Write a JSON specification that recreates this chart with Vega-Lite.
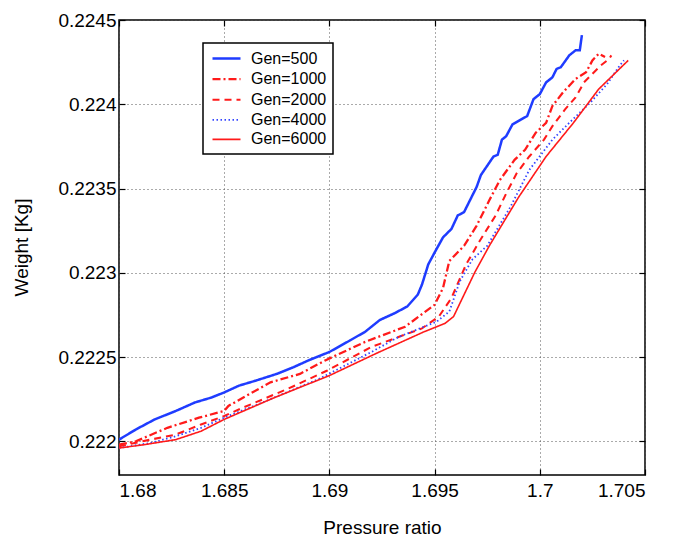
{
  "$schema": "https://vega.github.io/schema/vega-lite/v6.json",
  "width": 526,
  "height": 455,
  "autosize": {"type": "none"},
  "padding": {"left": 119, "top": 20, "right": 29, "bottom": 63},
  "background": "white",
  "config": {
    "font": "Liberation Sans",
    "view": {"stroke": "black", "strokeWidth": 1.5},
    "axis": {
      "labelFont": "Liberation Sans",
      "titleFont": "Liberation Sans",
      "labelFontSize": 19,
      "titleFontSize": 19,
      "titleFontWeight": "normal",
      "labelColor": "black",
      "titleColor": "black",
      "domain": false,
      "tickColor": "black",
      "tickSize": -6,
      "tickWidth": 1.2,
      "grid": true,
      "gridColor": "#555555",
      "gridDash": [1, 3],
      "gridWidth": 1
    }
  },
  "data": {
    "values": [
      {"series": "Gen=500", "pr": 1.6800, "w": 0.22201},
      {"series": "Gen=500", "pr": 1.6808, "w": 0.22207},
      {"series": "Gen=500", "pr": 1.6817, "w": 0.22213},
      {"series": "Gen=500", "pr": 1.6827, "w": 0.22218},
      {"series": "Gen=500", "pr": 1.6836, "w": 0.22223},
      {"series": "Gen=500", "pr": 1.6844, "w": 0.22226},
      {"series": "Gen=500", "pr": 1.6850, "w": 0.22229},
      {"series": "Gen=500", "pr": 1.6857, "w": 0.22233},
      {"series": "Gen=500", "pr": 1.6865, "w": 0.22236},
      {"series": "Gen=500", "pr": 1.6875, "w": 0.22240},
      {"series": "Gen=500", "pr": 1.6883, "w": 0.22244},
      {"series": "Gen=500", "pr": 1.6890, "w": 0.22248},
      {"series": "Gen=500", "pr": 1.6900, "w": 0.22253},
      {"series": "Gen=500", "pr": 1.6910, "w": 0.22260},
      {"series": "Gen=500", "pr": 1.6917, "w": 0.22265},
      {"series": "Gen=500", "pr": 1.6924, "w": 0.22272},
      {"series": "Gen=500", "pr": 1.6931, "w": 0.22276},
      {"series": "Gen=500", "pr": 1.6937, "w": 0.22280},
      {"series": "Gen=500", "pr": 1.6942, "w": 0.22287},
      {"series": "Gen=500", "pr": 1.6944, "w": 0.22293},
      {"series": "Gen=500", "pr": 1.6947, "w": 0.22305},
      {"series": "Gen=500", "pr": 1.6950, "w": 0.22312},
      {"series": "Gen=500", "pr": 1.6954, "w": 0.22321},
      {"series": "Gen=500", "pr": 1.6958, "w": 0.22326},
      {"series": "Gen=500", "pr": 1.6961, "w": 0.22334},
      {"series": "Gen=500", "pr": 1.6964, "w": 0.22336},
      {"series": "Gen=500", "pr": 1.6970, "w": 0.22351},
      {"series": "Gen=500", "pr": 1.6972, "w": 0.22358},
      {"series": "Gen=500", "pr": 1.6978, "w": 0.22369},
      {"series": "Gen=500", "pr": 1.6980, "w": 0.22370},
      {"series": "Gen=500", "pr": 1.6982, "w": 0.22379},
      {"series": "Gen=500", "pr": 1.6984, "w": 0.22381},
      {"series": "Gen=500", "pr": 1.6987, "w": 0.22388},
      {"series": "Gen=500", "pr": 1.6994, "w": 0.22393},
      {"series": "Gen=500", "pr": 1.6997, "w": 0.22403},
      {"series": "Gen=500", "pr": 1.7000, "w": 0.22406},
      {"series": "Gen=500", "pr": 1.7003, "w": 0.22413},
      {"series": "Gen=500", "pr": 1.7006, "w": 0.22416},
      {"series": "Gen=500", "pr": 1.7008, "w": 0.22421},
      {"series": "Gen=500", "pr": 1.7010, "w": 0.22422},
      {"series": "Gen=500", "pr": 1.7014, "w": 0.22429},
      {"series": "Gen=500", "pr": 1.7017, "w": 0.22432},
      {"series": "Gen=500", "pr": 1.7019, "w": 0.22432},
      {"series": "Gen=500", "pr": 1.7020, "w": 0.22441},

      {"series": "Gen=1000", "pr": 1.6800, "w": 0.22198},
      {"series": "Gen=1000", "pr": 1.6808, "w": 0.22200},
      {"series": "Gen=1000", "pr": 1.6823, "w": 0.22208},
      {"series": "Gen=1000", "pr": 1.6838, "w": 0.22214},
      {"series": "Gen=1000", "pr": 1.6850, "w": 0.22218},
      {"series": "Gen=1000", "pr": 1.6852, "w": 0.22221},
      {"series": "Gen=1000", "pr": 1.6872, "w": 0.22235},
      {"series": "Gen=1000", "pr": 1.6886, "w": 0.22240},
      {"series": "Gen=1000", "pr": 1.6898, "w": 0.22248},
      {"series": "Gen=1000", "pr": 1.6917, "w": 0.22259},
      {"series": "Gen=1000", "pr": 1.6936, "w": 0.22268},
      {"series": "Gen=1000", "pr": 1.6950, "w": 0.22281},
      {"series": "Gen=1000", "pr": 1.6954, "w": 0.22291},
      {"series": "Gen=1000", "pr": 1.6957, "w": 0.22307},
      {"series": "Gen=1000", "pr": 1.6964, "w": 0.22316},
      {"series": "Gen=1000", "pr": 1.6970, "w": 0.22328},
      {"series": "Gen=1000", "pr": 1.6976, "w": 0.22343},
      {"series": "Gen=1000", "pr": 1.6981, "w": 0.22355},
      {"series": "Gen=1000", "pr": 1.6988, "w": 0.22367},
      {"series": "Gen=1000", "pr": 1.6993, "w": 0.22373},
      {"series": "Gen=1000", "pr": 1.6998, "w": 0.22383},
      {"series": "Gen=1000", "pr": 1.7003, "w": 0.22389},
      {"series": "Gen=1000", "pr": 1.7006, "w": 0.22399},
      {"series": "Gen=1000", "pr": 1.7011, "w": 0.22407},
      {"series": "Gen=1000", "pr": 1.7017, "w": 0.22415},
      {"series": "Gen=1000", "pr": 1.7022, "w": 0.22419},
      {"series": "Gen=1000", "pr": 1.7025, "w": 0.22426},
      {"series": "Gen=1000", "pr": 1.7028, "w": 0.22430},
      {"series": "Gen=1000", "pr": 1.7031, "w": 0.22428},

      {"series": "Gen=2000", "pr": 1.6800, "w": 0.22197},
      {"series": "Gen=2000", "pr": 1.6815, "w": 0.22201},
      {"series": "Gen=2000", "pr": 1.6827, "w": 0.22204},
      {"series": "Gen=2000", "pr": 1.6839, "w": 0.22210},
      {"series": "Gen=2000", "pr": 1.6850, "w": 0.22215},
      {"series": "Gen=2000", "pr": 1.6859, "w": 0.22220},
      {"series": "Gen=2000", "pr": 1.6880, "w": 0.22231},
      {"series": "Gen=2000", "pr": 1.6899, "w": 0.22242},
      {"series": "Gen=2000", "pr": 1.6920, "w": 0.22256},
      {"series": "Gen=2000", "pr": 1.6944, "w": 0.22267},
      {"series": "Gen=2000", "pr": 1.6952, "w": 0.22274},
      {"series": "Gen=2000", "pr": 1.6958, "w": 0.22285},
      {"series": "Gen=2000", "pr": 1.6965, "w": 0.22305},
      {"series": "Gen=2000", "pr": 1.6971, "w": 0.22318},
      {"series": "Gen=2000", "pr": 1.6979, "w": 0.22334},
      {"series": "Gen=2000", "pr": 1.6984, "w": 0.22347},
      {"series": "Gen=2000", "pr": 1.6989, "w": 0.22359},
      {"series": "Gen=2000", "pr": 1.6995, "w": 0.22369},
      {"series": "Gen=2000", "pr": 1.7002, "w": 0.22379},
      {"series": "Gen=2000", "pr": 1.7006, "w": 0.22387},
      {"series": "Gen=2000", "pr": 1.7012, "w": 0.22397},
      {"series": "Gen=2000", "pr": 1.7017, "w": 0.22404},
      {"series": "Gen=2000", "pr": 1.7021, "w": 0.22413},
      {"series": "Gen=2000", "pr": 1.7025, "w": 0.22418},
      {"series": "Gen=2000", "pr": 1.7029, "w": 0.22423},
      {"series": "Gen=2000", "pr": 1.7033, "w": 0.22427},
      {"series": "Gen=2000", "pr": 1.7034, "w": 0.22429},

      {"series": "Gen=4000", "pr": 1.6800, "w": 0.22196},
      {"series": "Gen=4000", "pr": 1.6815, "w": 0.22199},
      {"series": "Gen=4000", "pr": 1.6827, "w": 0.22203},
      {"series": "Gen=4000", "pr": 1.6839, "w": 0.22208},
      {"series": "Gen=4000", "pr": 1.6850, "w": 0.22214},
      {"series": "Gen=4000", "pr": 1.6870, "w": 0.22224},
      {"series": "Gen=4000", "pr": 1.6895, "w": 0.22237},
      {"series": "Gen=4000", "pr": 1.6920, "w": 0.22253},
      {"series": "Gen=4000", "pr": 1.6933, "w": 0.22262},
      {"series": "Gen=4000", "pr": 1.6951, "w": 0.22271},
      {"series": "Gen=4000", "pr": 1.6957, "w": 0.22277},
      {"series": "Gen=4000", "pr": 1.6962, "w": 0.22295},
      {"series": "Gen=4000", "pr": 1.6968, "w": 0.22308},
      {"series": "Gen=4000", "pr": 1.6975, "w": 0.22316},
      {"series": "Gen=4000", "pr": 1.6986, "w": 0.22339},
      {"series": "Gen=4000", "pr": 1.6995, "w": 0.22361},
      {"series": "Gen=4000", "pr": 1.7006, "w": 0.22379},
      {"series": "Gen=4000", "pr": 1.7014, "w": 0.22389},
      {"series": "Gen=4000", "pr": 1.7024, "w": 0.22401},
      {"series": "Gen=4000", "pr": 1.7032, "w": 0.22412},
      {"series": "Gen=4000", "pr": 1.7038, "w": 0.22423},
      {"series": "Gen=4000", "pr": 1.7040, "w": 0.22426},

      {"series": "Gen=6000", "pr": 1.6800, "w": 0.22196},
      {"series": "Gen=6000", "pr": 1.6812, "w": 0.22198},
      {"series": "Gen=6000", "pr": 1.6827, "w": 0.22201},
      {"series": "Gen=6000", "pr": 1.6839, "w": 0.22206},
      {"series": "Gen=6000", "pr": 1.6850, "w": 0.22213},
      {"series": "Gen=6000", "pr": 1.6874, "w": 0.22226},
      {"series": "Gen=6000", "pr": 1.6900, "w": 0.22239},
      {"series": "Gen=6000", "pr": 1.6922, "w": 0.22252},
      {"series": "Gen=6000", "pr": 1.6945, "w": 0.22265},
      {"series": "Gen=6000", "pr": 1.6955, "w": 0.22270},
      {"series": "Gen=6000", "pr": 1.6959, "w": 0.22274},
      {"series": "Gen=6000", "pr": 1.6969, "w": 0.22300},
      {"series": "Gen=6000", "pr": 1.6976, "w": 0.22316},
      {"series": "Gen=6000", "pr": 1.6990, "w": 0.22345},
      {"series": "Gen=6000", "pr": 1.7003, "w": 0.22369},
      {"series": "Gen=6000", "pr": 1.7016, "w": 0.22389},
      {"series": "Gen=6000", "pr": 1.7028, "w": 0.22409},
      {"series": "Gen=6000", "pr": 1.7042, "w": 0.22426}
    ]
  },
  "layer": [
    {
      "mark": {"type": "line", "clip": true},
      "encoding": {
        "x": {
          "field": "pr", "type": "quantitative",
          "scale": {"domain": [1.68, 1.705], "nice": false, "zero": false},
          "axis": {
            "title": "Pressure ratio",
            "values": [1.68, 1.685, 1.69, 1.695, 1.7, 1.705],
            "format": ".3~f",
            "labelPadding": 12,
            "titleX": 263, "titleY": 58, "titleBaseline": "alphabetic"
          }
        },
        "y": {
          "field": "w", "type": "quantitative",
          "scale": {"domain": [0.2218, 0.2245], "nice": false, "zero": false},
          "axis": {
            "title": "Weight [Kg]",
            "values": [0.222, 0.2225, 0.223, 0.2235, 0.224, 0.2245],
            "format": ".4~f",
            "labelPadding": 9,
            "titleX": -98, "titleY": 227, "titleAlign": "center", "titleBaseline": "middle", "titleAngle": -90
          }
        },
        "color": {
          "field": "series", "type": "nominal",
          "scale": {
            "domain": ["Gen=500", "Gen=1000", "Gen=2000", "Gen=4000", "Gen=6000"],
            "range": ["#1f3cff", "#ff1a1a", "#ff1a1a", "#3344ff", "#ff1a1a"]
          },
          "legend": {
            "title": null,
            "orient": "none",
            "legendX": 84,
            "legendY": 23,
            "fillColor": "white",
            "strokeColor": "black",
            "padding": 6,
            "symbolType": "M-1.75,0H1.75",
            "symbolSize": 256,
            "symbolOffset": 8,
            "labelOffset": 15,
            "labelFont": "Liberation Sans",
            "labelFontSize": 16,
            "labelColor": "black",
            "rowPadding": 2.6,
            "encode": {"legend": {"update": {"strokeWidth": {"value": 1.5}}}}
          }
        },
        "strokeDash": {
          "field": "series", "type": "nominal",
          "scale": {
            "domain": ["Gen=500", "Gen=1000", "Gen=2000", "Gen=4000", "Gen=6000"],
            "range": [[1, 0], [8, 3, 2, 3], [7, 5], [1.5, 2.5], [1, 0]]
          }
        },
        "strokeWidth": {
          "field": "series", "type": "nominal",
          "scale": {
            "domain": ["Gen=500", "Gen=1000", "Gen=2000", "Gen=4000", "Gen=6000"],
            "range": [2.5, 1.6, 2.5, 1.5, 2.5]
          }
        }
      }
    },
    {
      "mark": {"type": "point", "opacity": 0},
      "encoding": {
        "x": {
          "field": "pr", "type": "quantitative",
          "axis": {"orient": "top", "values": [1.68, 1.685, 1.69, 1.695, 1.7, 1.705], "labels": false, "grid": false, "title": null}
        },
        "y": {
          "field": "w", "type": "quantitative",
          "axis": {"orient": "right", "values": [0.222, 0.2225, 0.223, 0.2235, 0.224, 0.2245], "labels": false, "grid": false, "title": null}
        }
      }
    }
  ],
  "resolve": {"axis": {"x": "independent", "y": "independent"}}
}
